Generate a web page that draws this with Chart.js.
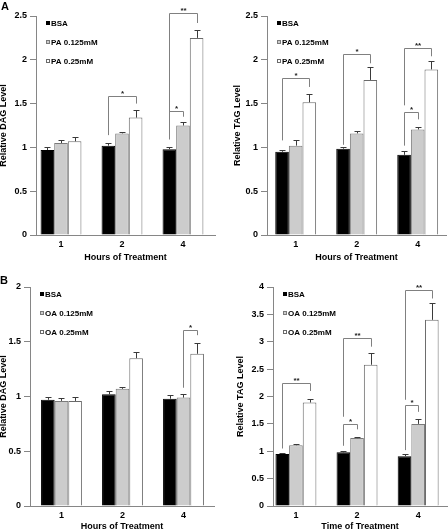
<!DOCTYPE html>
<html>
<head>
<meta charset="utf-8">
<script src="https://cdn.jsdelivr.net/npm/chart.js@4.4.0/dist/chart.umd.min.js"></script>
<style>
  body { margin: 0; background: #fff; }
  #fig { position: relative; width: 448px; height: 532px; font-family: "Liberation Sans", Arial, sans-serif; }
  #fig canvas { position: absolute; }
  .tag { position: absolute; font-weight: bold; font-size: 11px; line-height: 11px; }
</style>
</head>
<body>
<div id="fig">
  <canvas id="paDag" width="224" height="266" style="left:0;top:0"></canvas>
  <canvas id="paTag" width="224" height="266" style="left:224px;top:0"></canvas>
  <canvas id="oaDag" width="224" height="266" style="left:0;top:266px"></canvas>
  <canvas id="oaTag" width="224" height="266" style="left:224px;top:266px"></canvas>
  <div class="tag" style="left:1px;top:1px">A</div>
  <div class="tag" style="left:0;top:275px">B</div>
</div>
<script>
const categories = ['1', '2', '4'];
const paLabels = ['BSA', 'PA 0.125mM', 'PA 0.25mM'];
const oaLabels = ['BSA', 'OA 0.125mM', 'OA 0.25mM'];

// rows = BSA, 0.125mM, 0.25mM ; columns = hours 1, 2, 4
const paDagMean = [[0.97, 1.02, 0.98], [1.05, 1.16, 1.25], [1.07, 1.34, 2.25]];
const paDagErr = [[0.03, 0.035, 0.03], [0.036, 0.02, 0.04], [0.045, 0.09, 0.09]];
const paTagMean = [[0.95, 0.985, 0.915], [1.02, 1.16, 1.205], [1.515, 1.77, 1.89]];
const paTagErr = [[0.02, 0.015, 0.045], [0.06, 0.03, 0.025], [0.09, 0.145, 0.1]];
const oaDagMean = [[0.97, 1.02, 0.98], [0.96, 1.07, 0.99], [0.96, 1.35, 1.39]];
const oaDagErr = [[0.03, 0.03, 0.03], [0.03, 0.02, 0.03], [0.04, 0.06, 0.1]];
const oaTagMean = [[0.95, 0.98, 0.91], [1.11, 1.24, 1.5], [1.89, 2.58, 3.4]];
const oaTagErr = [[0.02, 0.02, 0.045], [0.02, 0.02, 0.09], [0.06, 0.22, 0.3]];

// significance: [hour index, from series, to series, bracket top, left leg end, right leg end, mark]
const paDagSig = [[1, 0, 2, 1.59, 1.14, 1.5, '*'], [2, 0, 1, 1.42, 1.09, 1.35, '*'], [2, 0, 2, 2.53, 1.32, 2.42, '**']];
const paTagSig = [[0, 0, 2, 1.79, 1.08, 1.69, '*'], [1, 0, 2, 2.07, 1.03, 1.96, '*'], [2, 0, 2, 2.14, 1.48, 2.04, '**'], [2, 0, 1, 1.4, 1.02, 1.32, '*']];
const oaDagSig = [[2, 1, 2, 1.61, 1.08, 1.56, '*']];
const oaTagSig = [[0, 0, 2, 2.25, 1.05, 2.1, '**'], [1, 0, 2, 3.06, 1.63, 2.91, '**'], [1, 0, 1, 1.5, 1.1, 1.4, '*'], [2, 0, 2, 3.94, 1.94, 3.79, '**'], [2, 0, 1, 1.84, 1.02, 1.72, '*']];

const fills = ['#000000', '#cccccc', '#ffffff'];
const borders = ['#000000', '#7a7a7a', '#6a6a6a'];
const axisGrey = '#868686';
const font = (size) => ({ family: '"Liberation Sans", Arial, sans-serif', size: size, weight: 'bold' });

// error bars, brackets and the in-plot legend
function extras(err, sig) {
    return {
        id: 'extras',
        afterDatasetsDraw(chart) {
            const ctx = chart.ctx;
            const y = chart.scales.y;
            const area = chart.chartArea;
            ctx.save();
            ctx.lineWidth = 1;

            ctx.strokeStyle = '#3a3a3a';
            chart.data.datasets.forEach((ds, s) => {
                chart.getDatasetMeta(s).data.forEach((bar, c) => {
                    const x = Math.round(bar.x) + 0.5;
                    const top = Math.round(y.getPixelForValue(ds.data[c].y + err[s][c])) + 0.5;
                    ctx.beginPath();
                    ctx.moveTo(x, bar.y);
                    ctx.lineTo(x, top);
                    ctx.moveTo(x - 3, top);
                    ctx.lineTo(x + 3, top);
                    ctx.stroke();
                });
            });

            ctx.strokeStyle = '#808080';
            ctx.fillStyle = '#222';
            ctx.font = 'bold 8px "Liberation Sans", Arial, sans-serif';
            ctx.textAlign = 'center';
            ctx.textBaseline = 'alphabetic';
            sig.forEach(([c, a, b, top, endA, endB, mark]) => {
                const xa = Math.round(chart.getDatasetMeta(a).data[c].x) + 0.5;
                const xb = Math.round(chart.getDatasetMeta(b).data[c].x) + 0.5;
                const yt = Math.round(y.getPixelForValue(top)) + 0.5;
                ctx.beginPath();
                ctx.moveTo(xa, y.getPixelForValue(endA));
                ctx.lineTo(xa, yt);
                ctx.lineTo(xb, yt);
                ctx.lineTo(xb, y.getPixelForValue(endB));
                ctx.stroke();
                ctx.fillText(mark, (xa + xb) / 2, yt - 1);
            });

            const lx = Math.round(area.left) + 10;
            ctx.textAlign = 'left';
            ctx.textBaseline = 'middle';
            chart.data.datasets.forEach((ds, i) => {
                const ly = Math.round(area.top + 7 + i * 19);
                ctx.fillStyle = ds.backgroundColor;
                ctx.fillRect(lx, ly - 2, 4, 4);
                ctx.strokeStyle = ds.borderColor;
                ctx.strokeRect(lx + 0.5, ly - 1.5, 3, 3);
                ctx.fillStyle = '#000';
                ctx.fillText(ds.label, lx + 5, ly + 0.5);
            });
            ctx.restore();
        }
    };
}

function panel(id, labels, mean, err, sig, yMax, yTitle, xTitle, box) {
    new Chart(document.getElementById(id), {
        type: 'bar',
        data: {
            datasets: labels.map((label, s) => ({
                label: label,
                data: mean[s].map((v, c) => ({ x: c, y: v })),
                backgroundColor: fills[s],
                borderColor: borders[s],
                borderWidth: 1,
                categoryPercentage: 0.67,
                barPercentage: 1
            }))
        },
        options: {
            responsive: false,
            animation: false,
            events: [],
            layout: { padding: { top: box.top, right: box.right, left: 0, bottom: 0 } },
            plugins: { legend: { display: false }, tooltip: { enabled: false } },
            scales: {
                x: {
                    type: 'linear',
                    min: box.xMin,
                    max: box.xMax,
                    offset: false,
                    afterBuildTicks: s => { s.ticks = categories.map((c, i) => ({ value: i })); },
                    afterFit: s => { s.height = box.xh; },
                    ticks: { callback: v => categories[v], color: '#000', font: font(9), padding: 4, maxRotation: 0 },
                    grid: { display: false, drawTicks: false },
                    border: { color: axisGrey, width: 1 },
                    title: { display: true, text: xTitle, color: '#000', font: font(9), padding: { top: 0, bottom: box.xtb } }
                },
                y: {
                    min: 0,
                    max: yMax,
                    afterBuildTicks: s => { s.ticks = []; for (let v = 0; v <= yMax + 1e-9; v += 0.5) s.ticks.push({ value: v }); },
                    afterFit: s => { s.width = box.yw; },
                    ticks: { callback: v => String(Math.round(v * 10) / 10), color: '#000', font: font(9), padding: 3 },
                    grid: { drawOnChartArea: false, drawTicks: true, tickLength: 6, color: axisGrey },
                    border: { color: axisGrey, width: 1 },
                    title: { display: true, text: yTitle, color: '#000', font: font(9), padding: { top: box.ytp, bottom: 0 } }
                }
            }
        },
        plugins: [extras(err, sig)]
    });
}

document.addEventListener('DOMContentLoaded', () => {
    panel('paDag', paLabels, paDagMean, paDagErr, paDagSig, 2.5, 'Relative DAG Level', 'Hours of Treatment',
        { top: 16, right: 9, yw: 36, xh: 31, xMin: -0.41, xMax: 2.525, ytp: -2, xtb: 3 });
    panel('paTag', paLabels, paTagMean, paTagErr, paTagSig, 2.5, 'Relative TAG Level', 'Hours of Treatment',
        { top: 16, right: 2, yw: 43, xh: 31, xMin: -0.47, xMax: 2.464, ytp: 8, xtb: 3 });
    panel('oaDag', oaLabels, oaDagMean, oaDagErr, oaDagSig, 2, 'Relative DAG Level', 'Hours of Treatment',
        { top: 21, right: 10, yw: 30, xh: 26, xMin: -0.516, xMax: 2.5, ytp: -2, xtb: 0 });
    panel('oaTag', oaLabels, oaTagMean, oaTagErr, oaTagSig, 4, 'Relative TAG Level', 'Time of Treatment',
        { top: 21, right: 1, yw: 49, xh: 26, xMin: -0.375, xMax: 2.472, ytp: 11, xtb: 0 });
});
</script>
</body>
</html>
